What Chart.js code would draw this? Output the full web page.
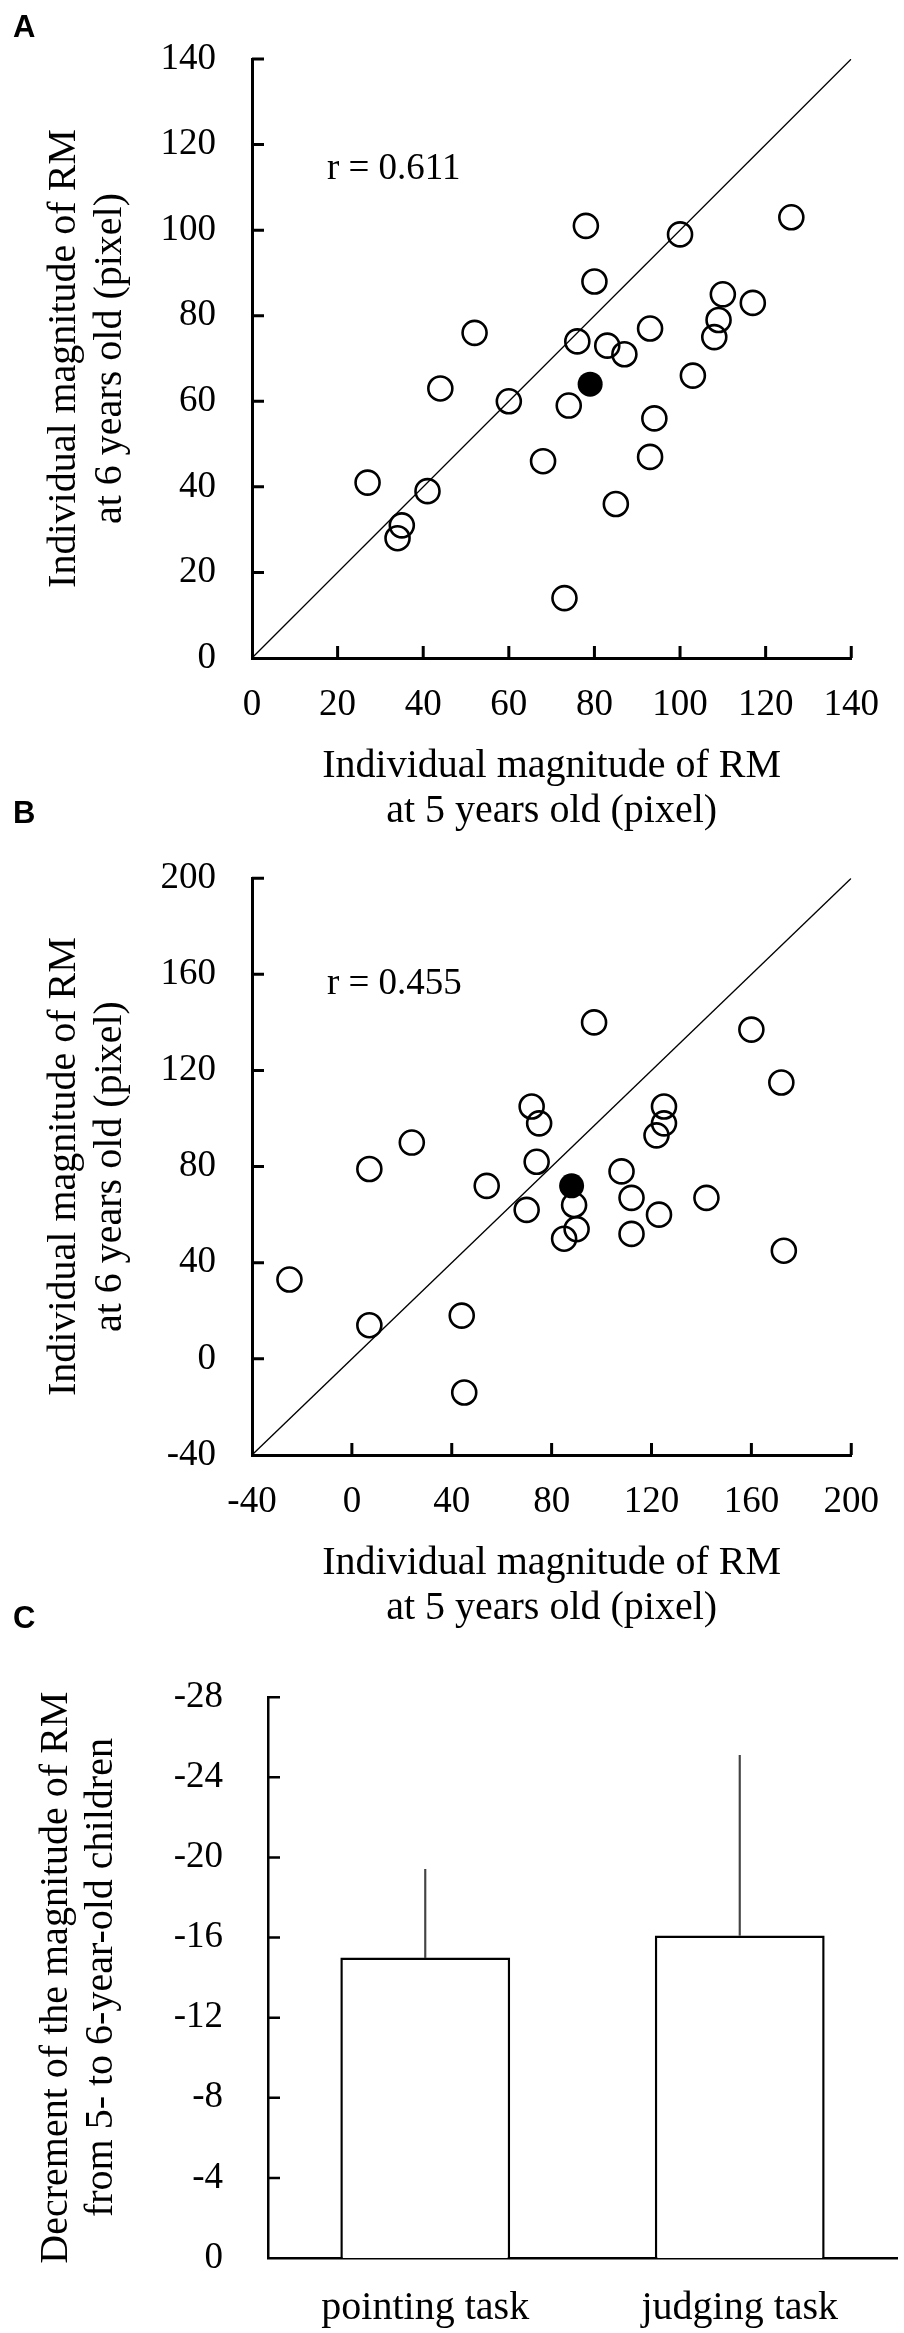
<!DOCTYPE html>
<html>
<head>
<meta charset="utf-8">
<script src="https://cdn.jsdelivr.net/npm/chart.js@4.4.1/dist/chart.umd.min.js"></script>
<style>
  body { margin: 0; background: #fff; width: 904px; height: 2333px; position: relative; overflow: hidden; }
  canvas { position: absolute; left: 0; }
  .tag { position: absolute; left: 13px; font: bold 31px 'Liberation Sans', Arial, sans-serif; line-height: 1; color: #000; z-index: 2; }
</style>
</head>
<body>
<div class="tag" style="top:11px">A</div>
<div class="tag" style="top:797px">B</div>
<div class="tag" style="top:1602px">C</div>
<canvas id="chartA" width="904" height="840" style="top:0"></canvas>
<canvas id="chartB" width="904" height="817" style="top:820px"></canvas>
<canvas id="chartC" width="904" height="703" style="top:1630px"></canvas>
<script>
(function () {

  "use strict";
  var serif = "'Liberation Serif', 'Times New Roman', serif";

  // panel A: RM at 5 years (x) vs 6 years (y), open circles = children, filled = mean
  var fiveA = [78, 100, 126, 80, 110, 117, 109, 108, 93, 52, 76, 83, 87, 44, 60, 74, 103, 94, 68, 93, 27, 41, 35, 34, 85, 73];
  var sixA  = [101, 99, 103, 88, 85, 83, 79, 75, 77, 76, 74, 73, 71, 63, 60, 59, 66, 56, 46, 47, 41, 39, 31, 28, 36, 14];
  var meanA = [79, 64];
  var rangeA = [0, 140, 20];

  // panel B
  var fiveB = [97, 160, 172, 72, 75, 125, 125, 122, 24, 74, 7, 108, 54, 89, 70, 90, 85, 112, 123, 112, 142, 173, -25, 7, 44, 45];
  var sixB  = [140, 137, 115, 105, 98, 105, 98, 93, 90, 82, 79, 78, 72, 64, 62, 54, 50, 67, 60, 52, 67, 45, 33, 14, 18, -14];
  var meanB = [88, 72];
  var rangeB = [-40, 200, 40];

  // panel C
  var tasks = ['pointing task', 'judging task'];
  var decrement = [-15.0, -16.1];
  var decrementSD = [4.4, 9.0];

  Chart.defaults.color = '#000';
  Chart.defaults.font.family = serif;

  var innerTicks = {
    id: 'innerTicks',
    afterDatasetsDraw: function (chart, args, opts) {
      var ctx = chart.ctx, area = chart.chartArea;
      ctx.save();
      ctx.strokeStyle = '#000';
      ctx.lineWidth = opts.width;
      ctx.beginPath();
      var sy = chart.scales.y;
      sy.ticks.forEach(function (t) {
        var py = sy.getPixelForValue(t.value);
        if (Math.abs(py - area.bottom) < 1) return;
        ctx.moveTo(area.left, py);
        ctx.lineTo(area.left + opts.length, py);
      });
      if (opts.xTicks) {
        var sx = chart.scales.x;
        sx.ticks.forEach(function (t) {
          var px = sx.getPixelForValue(t.value);
          if (Math.abs(px - area.left) < 1) return;
          ctx.moveTo(px, area.bottom);
          ctx.lineTo(px, area.bottom - opts.length);
        });
      }
      ctx.stroke();
      ctx.restore();
    }
  };

  var rLabel = {
    id: 'rLabel',
    afterDatasetsDraw: function (chart, args, opts) {
      if (!opts || !opts.text) return;
      var ctx = chart.ctx;
      ctx.save();
      ctx.font = '37px ' + serif;
      ctx.fillStyle = '#000';
      ctx.textBaseline = 'alphabetic';
      ctx.fillText(opts.text, chart.scales.x.getPixelForValue(opts.x), chart.scales.y.getPixelForValue(opts.y));
      ctx.restore();
    }
  };

  function points(xs, ys) {
    return xs.map(function (x, i) { return {x: x, y: ys[i]}; });
  }

  function scatterChart(id, five, six, mean, range, padTop, r) {
    var lo = range[0], hi = range[1];
    return new Chart(document.getElementById(id), {
      type: 'scatter',
      data: {
        datasets: [{
          data: [{x: lo, y: lo}, {x: hi, y: hi}],
          showLine: true,
          borderColor: '#000',
          borderWidth: 1.3,
          pointRadius: 0
        }, {
          data: points(five, six),
          pointStyle: 'circle',
          pointRadius: 12,
          borderWidth: 2.6,
          borderColor: '#000',
          backgroundColor: 'rgba(0,0,0,0)'
        }, {
          data: [{x: mean[0], y: mean[1]}],
          pointRadius: 12.5,
          borderWidth: 0,
          backgroundColor: '#000'
        }]
      },
      options: {
        responsive: false,
        animation: false,
        layout: { padding: { top: padTop, right: 48, left: 0, bottom: 0 } },
        plugins: {
          legend: { display: false },
          tooltip: { enabled: false },
          innerTicks: { width: 3, length: 12, xTicks: true },
          rLabel: r
        },
        scales: {
          x: {
            type: 'linear', min: lo, max: hi,
            ticks: { stepSize: range[2], padding: 25, font: { size: 37 } },
            grid: { display: false, drawTicks: false },
            border: { color: '#000', width: 3 },
            title: {
              display: true,
              text: ['Individual magnitude of RM', 'at 5 years old (pixel)'],
              font: { size: 40, lineHeight: 1.125 },
              padding: { top: 0, bottom: 6.5 }
            },
            afterFit: function (s) { s.height = 182; }
          },
          y: {
            type: 'linear', min: lo, max: hi,
            ticks: { stepSize: range[2], padding: 36, font: { size: 37 } },
            grid: { display: false, drawTicks: false },
            border: { color: '#000', width: 3 },
            title: {
              display: true,
              text: ['Individual magnitude of RM', 'at 6 years old (pixel)'],
              font: { size: 40, lineHeight: 1.15 },
              padding: { top: 41, bottom: 0 }
            },
            afterFit: function (s) { s.width = 252; }
          }
        }
      },
      plugins: [innerTicks, rLabel]
    });
  }

  scatterChart('chartA', fiveA, sixA, meanA, rangeA, 59, { text: 'r = 0.611', x: 17.5, y: 112 });
  scatterChart('chartB', fiveB, sixB, meanB, rangeB, 38, { text: 'r = 0.455', x: -10, y: 152 });

  new Chart(document.getElementById('chartC'), {
    type: 'bar',
    data: {
      labels: tasks,
      datasets: [{
        data: decrement,
        backgroundColor: '#fff',
        borderColor: '#000',
        borderWidth: 2.5,
        borderSkipped: 'start',
        categoryPercentage: 1,
        barPercentage: 0.54,
        grouped: false,
        order: 2
      }, {
        data: decrement.map(function (m, i) { return [m, m - decrementSD[i]]; }),
        backgroundColor: '#444',
        borderWidth: 0,
        barThickness: 1.5,
        grouped: false,
        order: 1
      }]
    },
    options: {
      responsive: false,
      animation: false,
      layout: { padding: { top: 35, right: 7, left: 0, bottom: 0 } },
      plugins: {
        legend: { display: false },
        tooltip: { enabled: false },
        innerTicks: { width: 2.5, length: 12, xTicks: false }
      },
      scales: {
        x: {
          ticks: { padding: 26, font: { size: 40 } },
          grid: { display: false, drawTicks: false },
          border: { color: '#000', width: 2.5 },
          afterFit: function (s) { s.height = 75; }
        },
        y: {
          min: -28, max: 0, reverse: true,
          ticks: { stepSize: 4, padding: 45, font: { size: 37 } },
          grid: { display: false, drawTicks: false },
          border: { color: '#000', width: 2.5 },
          title: {
            display: true,
            text: ['Decrement of the magnitude of RM', 'from 5- to 6-year-old children'],
            font: { size: 40, lineHeight: 1.125 },
            padding: { top: 33.5, bottom: 0 }
          },
          afterFit: function (s) { s.width = 268; }
        }
      }
    },
    plugins: [innerTicks]
  });
})();
</script>
</body>
</html>
